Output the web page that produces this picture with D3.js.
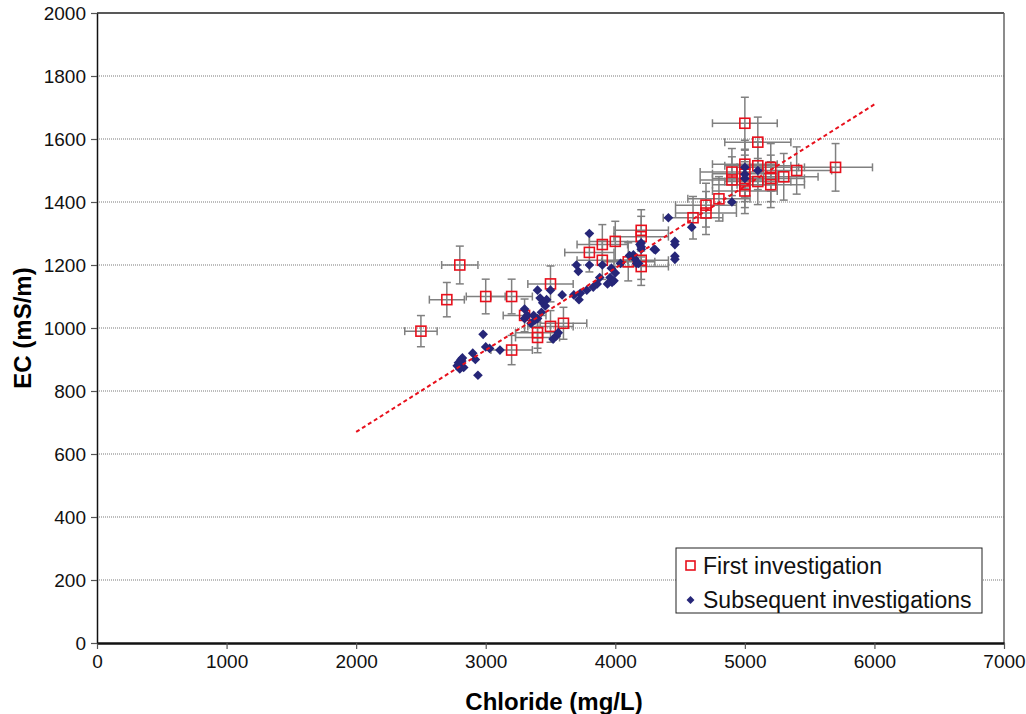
<!DOCTYPE html>
<html>
<head>
<meta charset="utf-8">
<script src="https://cdn.jsdelivr.net/npm/d3@7"></script>
<style>
  body { margin: 0; background: #fff; }
  text { font-family: "Liberation Sans", Arial, sans-serif; }
</style>
</head>
<body>
<div id="chart"></div>
<script>
// first investigation: [chloride, EC]
const firstInv = [
  [2500, 990], [2700, 1090], [2800, 1200], [3000, 1100], [3200, 1100], [3200, 930],
  [3300, 1040], [3400, 985], [3400, 970], [3500, 1140], [3500, 1005], [3600, 1015],
  [3800, 1240], [3900, 1265], [3900, 1215], [4000, 1275], [4100, 1210],
  [4200, 1310], [4200, 1290], [4200, 1215], [4200, 1195],
  [4600, 1350], [4700, 1390], [4700, 1365], [4800, 1410], [4900, 1495], [4900, 1470],
  [5000, 1650], [5000, 1520], [5000, 1490], [5000, 1475], [5000, 1455], [5000, 1435],
  [5100, 1590], [5100, 1515], [5100, 1465], [5200, 1510], [5200, 1475], [5200, 1455],
  [5300, 1480], [5400, 1500], [5700, 1510]
];

// subsequent investigations
const subsequent = [
  [2780, 880], [2790, 890], [2800, 870], [2810, 900], [2820, 905], [2830, 875], [2800, 885], [2815, 895],
  [2900, 920], [2920, 900], [2940, 850], [2980, 980], [3000, 940], [3030, 935], [3110, 930],
  [3300, 1060], [3300, 1030], [3320, 1040], [3350, 1015], [3370, 1040], [3380, 1025],
  [3400, 1120], [3420, 1095], [3440, 1080], [3460, 1070], [3400, 1030], [3430, 1050], [3470, 1090],
  [3500, 1120], [3520, 965], [3545, 975], [3560, 985], [3590, 1105], [3680, 1105],
  [3700, 1200], [3715, 1180], [3720, 1090], [3730, 1110],
  [3780, 1120], [3800, 1300], [3800, 1200], [3830, 1130], [3860, 1140], [3880, 1160],
  [3900, 1200], [3960, 1160], [3970, 1190], [3975, 1145], [4000, 1175], [4040, 1205],
  [3990, 1150], [3940, 1140],
  [4110, 1230], [4140, 1232], [4150, 1220], [4165, 1205], [4180, 1205], [4190, 1265],
  [4200, 1250], [4200, 1270], [4200, 1258], [4300, 1250], [4310, 1248],
  [4410, 1350], [4460, 1275], [4460, 1265], [4460, 1228], [4460, 1218], [4590, 1320],
  [4900, 1400], [5000, 1510], [5000, 1488], [5000, 1475], [5100, 1500]
];

const trend = [[2000, 670], [6000, 1710]];
const errFrac = 0.05;

const xTicks = [0, 1000, 2000, 3000, 4000, 5000, 6000, 7000];
const yTicks = [0, 200, 400, 600, 800, 1000, 1200, 1400, 1600, 1800, 2000];

const width = 1026, height = 714;
const m = { left: 97, top: 13, right: 1004, bottom: 643 };

const svg = d3.select("#chart").append("svg")
  .attr("width", width).attr("height", height);

const x = d3.scaleLinear().domain([0, 7000]).range([m.left, m.right]);
const y = d3.scaleLinear().domain([0, 2000]).range([m.bottom, m.top]);

// gridlines
svg.append("g")
  .selectAll("line")
  .data(yTicks.filter((d) => d > 0 && d < 2000))
  .enter()
  .append("line")
  .attr("x1", m.left).attr("x2", m.right)
  .attr("y1", (d) => y(d)).attr("y2", (d) => y(d))
  .attr("stroke", "#7a7a7a")
  .attr("stroke-width", 1.2)
  .attr("stroke-dasharray", "1,1");

// frame: top and right
svg.append("line").attr("x1", m.left).attr("x2", m.right).attr("y1", m.top).attr("y2", m.top)
  .attr("stroke", "#222").attr("stroke-width", 1.5);
svg.append("line").attr("x1", m.right).attr("x2", m.right).attr("y1", m.top).attr("y2", m.bottom)
  .attr("stroke", "#666").attr("stroke-width", 1.5);

// axes
const fmt = d3.format("d");
const xAxis = svg.append("g")
  .attr("transform", `translate(0,${m.bottom})`)
  .call(d3.axisBottom(x).tickValues(xTicks).tickFormat(fmt).tickSize(6).tickPadding(6).tickSizeOuter(0));
const yAxis = svg.append("g")
  .attr("transform", `translate(${m.left},0)`)
  .call(d3.axisLeft(y).tickValues(yTicks).tickFormat(fmt).tickSize(6).tickPadding(5).tickSizeOuter(0));

xAxis.select(".domain").attr("stroke", "#111").attr("stroke-width", 2.5);
yAxis.select(".domain").attr("stroke", "#111").attr("stroke-width", 1.5);
[xAxis, yAxis].forEach((a) => {
  a.selectAll(".tick line").attr("stroke", "#555").attr("stroke-width", 1.2);
  a.selectAll(".tick text").attr("font-size", 19).attr("fill", "#111")
    .style("font-family", "'Liberation Sans', Arial, sans-serif");
});

// error bars
const eb = svg.append("g").attr("stroke", "#808080").attr("stroke-width", 1.5).attr("fill", "none");
const cap = 4;
firstInv.forEach((d) => {
  const cx = x(d[0]), cy = y(d[1]);
  const x0 = x(d[0] * (1 - errFrac)), x1 = x(d[0] * (1 + errFrac));
  const y0 = y(d[1] * (1 - errFrac)), y1 = y(d[1] * (1 + errFrac));
  eb.append("line").attr("x1", x0).attr("x2", x1).attr("y1", cy).attr("y2", cy);
  eb.append("line").attr("x1", x0).attr("x2", x0).attr("y1", cy - cap).attr("y2", cy + cap);
  eb.append("line").attr("x1", x1).attr("x2", x1).attr("y1", cy - cap).attr("y2", cy + cap);
  eb.append("line").attr("x1", cx).attr("x2", cx).attr("y1", y0).attr("y2", y1);
  eb.append("line").attr("x1", cx - cap).attr("x2", cx + cap).attr("y1", y0).attr("y2", y0);
  eb.append("line").attr("x1", cx - cap).attr("x2", cx + cap).attr("y1", y1).attr("y2", y1);
});

// first investigation squares
const sq = 10;
svg.append("g")
  .selectAll("rect")
  .data(firstInv)
  .enter()
  .append("rect")
  .attr("x", (d) => x(d[0]) - sq / 2)
  .attr("y", (d) => y(d[1]) - sq / 2)
  .attr("width", sq).attr("height", sq)
  .attr("fill", "none")
  .attr("stroke", "#e8101c")
  .attr("stroke-width", 1.6);

// subsequent diamonds
const diamond = d3.symbol().type(d3.symbolDiamond2).size(60);
svg.append("g")
  .selectAll("path")
  .data(subsequent)
  .enter()
  .append("path")
  .attr("d", diamond)
  .attr("transform", (d) => `translate(${x(d[0])},${y(d[1])})`)
  .attr("fill", "#262678");

// trend line
svg.append("path")
  .datum(trend)
  .attr("d", d3.line().x((d) => x(d[0])).y((d) => y(d[1])))
  .attr("stroke", "#e8101c")
  .attr("stroke-width", 2)
  .attr("stroke-dasharray", "4,3")
  .attr("fill", "none");

// axis titles
svg.append("text")
  .attr("x", 554).attr("y", 710)
  .attr("text-anchor", "middle")
  .attr("font-size", 24).attr("font-weight", "bold")
  .text("Chloride (mg/L)");
svg.append("text")
  .attr("transform", `translate(31,${(m.top + m.bottom) / 2}) rotate(-90)`)
  .attr("text-anchor", "middle")
  .attr("font-size", 24).attr("font-weight", "bold")
  .text("EC (mS/m)");

// legend
const lg = svg.append("g").attr("transform", "translate(676,548)");
lg.append("rect").attr("width", 306).attr("height", 65)
  .attr("fill", "#fff").attr("stroke", "#222").attr("stroke-width", 1);
lg.append("rect").attr("x", 10).attr("y", 13).attr("width", 9).attr("height", 9)
  .attr("fill", "none").attr("stroke", "#e8101c").attr("stroke-width", 1.6);
lg.append("text").attr("x", 27).attr("y", 26).attr("font-size", 23).attr("fill", "#111")
  .text("First investigation");
lg.append("path").attr("d", d3.symbol().type(d3.symbolDiamond2).size(40))
  .attr("transform", "translate(14.5,52)").attr("fill", "#262678");
lg.append("text").attr("x", 27).attr("y", 60).attr("font-size", 23).attr("fill", "#111")
  .text("Subsequent investigations");
</script>
</body>
</html>
